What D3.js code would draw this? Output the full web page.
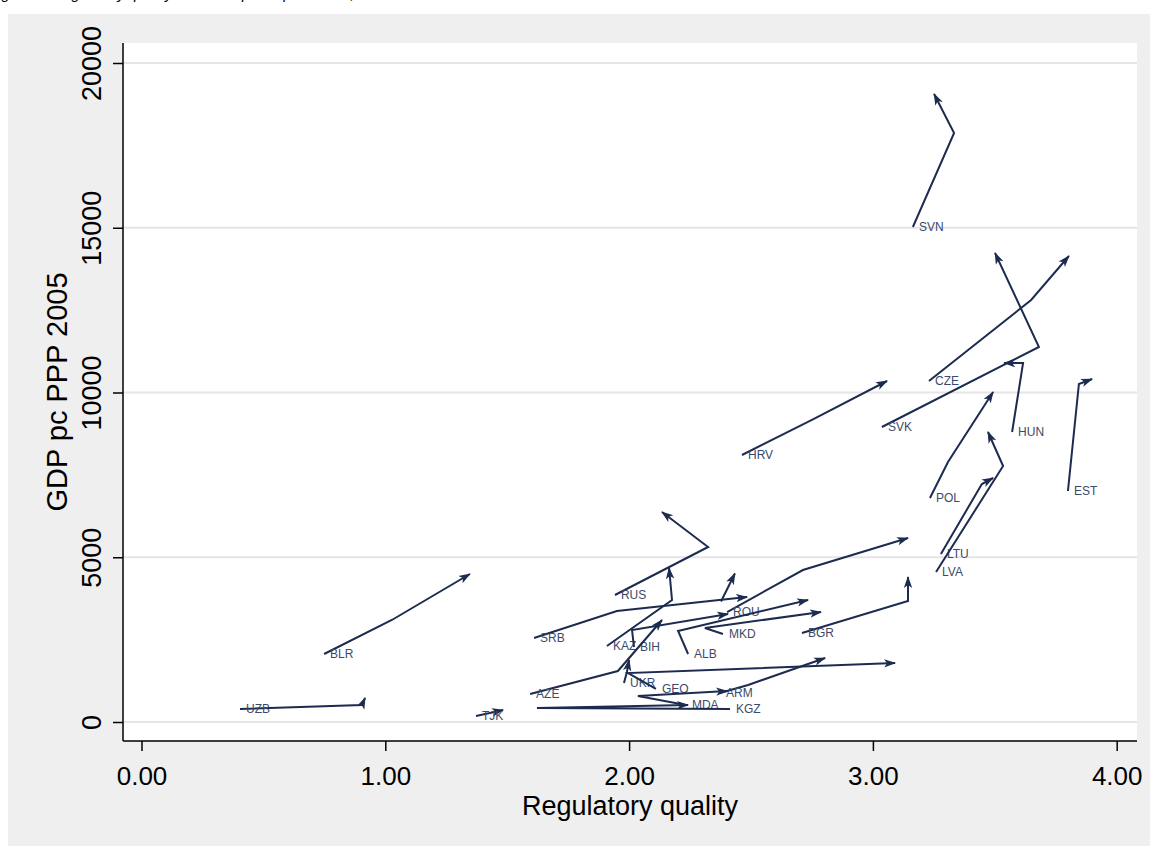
<!DOCTYPE html>
<html><head><meta charset="utf-8">
<script src="https://cdn.jsdelivr.net/npm/d3@7"></script>
<style>html,body{margin:0;padding:0;background:#fff;}svg{display:block;}</style>
</head><body>
<svg id="chart" width="1150" height="846"></svg>
<script>
// Data: each country path (regulatory quality, GDP pc) in chronological order
const countries = ["SVN","CZE","SVK","HUN","EST","POL","LTU","LVA","HRV","RUS","KAZ","SRB","BIH","ROU","ALB","MKD","BGR","AZE","UKR","GEO","ARM","MDA","KGZ","UZB","BLR","TJK","SRB2"];
const labels = {SRB2:""};
const rq = {
  SVN:[3.164,3.333,3.251], CZE:[3.230,3.649,3.804], SVK:[3.037,3.681,3.501], HUN:[3.571,3.616,3.538],
  EST:[3.800,3.845,3.899], POL:[3.234,3.308,3.493], LTU:[3.279,3.447,3.493], LVA:[3.259,3.534,3.472],
  HRV:[2.463,2.750,3.058], RUS:[1.942,2.324,2.135], KAZ:[1.909,2.176,2.164], SRB:[1.610,1.950,2.484],
  BIH:[2.020,2.012,2.406], ROU:[2.402,2.713,3.144], ALB:[2.242,2.201,2.734], MKD:[2.385,2.311,2.787],
  BGR:[2.709,3.144,3.144], AZE:[1.594,1.954,2.135], UKR:[1.979,1.991,2.000], GEO:[2.110,1.996,3.091],
  ARM:[2.373,2.488,2.804], MDA:[2.233,2.036,2.402], KGZ:[2.414,1.622,2.242], UZB:[0.404,0.904,0.917],
  BLR:[0.749,1.027,1.347], TJK:[1.372,1.429,1.483], SRB2:[2.377,2.434]
};
const gdp = {
  SVN:[15023,17876,19059], CZE:[10349,12807,14143], SVK:[8953,11381,14234], HUN:[8801,10895,10895],
  EST:[7011,10258,10410], POL:[6798,7891,10015], LTU:[5099,7223,7405], LVA:[4552,7769,8801],
  HRV:[8103,9166,10349], RUS:[3854,5311,6373], KAZ:[2307,3703,4674], SRB:[2549,3369,3794],
  BIH:[2276,2792,3278], ROU:[3338,4613,5584], ALB:[2064,2762,3703], MKD:[2671,2853,3338],
  BGR:[2701,3672,4401], AZE:[850,1548,3096], UKR:[1184,1517,1882], GEO:[1002,1487,1791],
  ARM:[880,1123,1942], MDA:[516,789,941], KGZ:[395,425,516], UZB:[395,516,728],
  BLR:[2064,3096,4492], TJK:[182,273,364], SRB2:[3657,4507]
};
const xTicks = [0,1,2,3,4];
const yTicks = [0,5000,10000,15000,20000];
const xTitle = "Regulatory quality";
const yTitle = "GDP pc PPP 2005";
const caption = "Figure 3: Regulatory quality and GDP per capita levels, 1996\u20132008";

const svg = d3.select("#chart");
const W = 1150, H = 846;
const plot = {left:123, right:1137, top:43, bottom:741};
const x = d3.scaleLinear().domain([0,4]).range([141.5,1116.7]);
const y = d3.scaleLinear().domain([0,20000]).range([722,63]);
const lineColor = "#1c2b4f";
const labelColor = "#3b4a6b";

// caption (cut off at top)
svg.append("text").attr("x",-11).attr("y",-1)
  .attr("font-family","Liberation Sans, Arial, sans-serif").attr("font-style","italic")
  .attr("font-size",15).attr("fill","#000").text(caption);

// outer grey
svg.append("rect").attr("x",8).attr("y",14).attr("width",W-8).attr("height",H-14).attr("fill","#efefef");
// plot region
svg.append("rect").attr("x",plot.left).attr("y",plot.top).attr("width",plot.right-plot.left).attr("height",plot.bottom-plot.top).attr("fill","#fff");

// gridlines
svg.append("g").selectAll("line").data(yTicks).join("line")
  .attr("x1",plot.left).attr("x2",plot.right)
  .attr("y1",d=>y(d)).attr("y2",d=>y(d))
  .attr("stroke","#e5e5e5").attr("stroke-width",2.2);

// axes
const font = "Liberation Sans, Arial, sans-serif";
const xAxis = svg.append("g").attr("transform",`translate(0,${plot.bottom})`)
  .call(d3.axisBottom(x).tickValues(xTicks).tickFormat(d3.format(".2f")).tickSize(10).tickPadding(0));
xAxis.select(".domain").remove();
xAxis.selectAll(".tick line").attr("stroke","#000").attr("stroke-width",1.5);
xAxis.selectAll(".tick text").attr("font-family",font).attr("font-size",26).attr("fill","#000")
  .attr("dy",null).attr("y",44);
svg.append("line").attr("x1",plot.left).attr("x2",plot.right).attr("y1",plot.bottom).attr("y2",plot.bottom)
  .attr("stroke","#000").attr("stroke-width",1.5);

const yAxis = svg.append("g").attr("transform",`translate(${plot.left},0)`)
  .call(d3.axisLeft(y).tickValues(yTicks).tickFormat(d3.format("d")).tickSize(10).tickPadding(0));
yAxis.select(".domain").remove();
yAxis.selectAll(".tick line").attr("stroke","#000").attr("stroke-width",1.5);
yAxis.selectAll(".tick text").attr("font-family",font).attr("font-size",27).attr("fill","#000")
  .attr("x",null).attr("dy",null)
  .attr("transform","translate(-22,0) rotate(-90)")
  .attr("text-anchor","middle").attr("y",0);
svg.append("line").attr("x1",plot.left).attr("x2",plot.left).attr("y1",plot.top).attr("y2",plot.bottom)
  .attr("stroke","#000").attr("stroke-width",1.5);

// titles
svg.append("text").attr("x",(plot.left+plot.right)/2).attr("y",815).attr("text-anchor","middle")
  .attr("font-family",font).attr("font-size",27).attr("fill","#000").text(xTitle);
svg.append("text").attr("transform",`translate(67,${(plot.top+plot.bottom)/2}) rotate(-90)`).attr("text-anchor","middle")
  .attr("font-family",font).attr("font-size",29).attr("fill","#000").text(yTitle);

// arrowhead marker
const defs = svg.append("defs");
defs.append("marker").attr("id","arr").attr("viewBox","0 0 12 10").attr("refX",11).attr("refY",5)
  .attr("markerWidth",12).attr("markerHeight",10).attr("markerUnits","userSpaceOnUse").attr("orient","auto")
  .append("path").attr("d","M0,0.8 L12,5 L0,9.2 L3,5 Z").attr("fill",lineColor);

const line = d3.line().x(d=>x(d[0])).y(d=>y(d[1]));
const g = svg.append("g");
countries.forEach(c=>{
  const pts = rq[c].map((v,i)=>[v, gdp[c][i]]);
  g.append("path").attr("d",line(pts)).attr("fill","none").attr("stroke",lineColor)
    .attr("stroke-width",2).attr("stroke-linejoin","miter").attr("marker-end","url(#arr)");
  const lab = (c in labels) ? labels[c] : c;
  if (lab) g.append("text").attr("x",x(pts[0][0])+6).attr("y",y(pts[0][1])).attr("dy","0.35em")
    .attr("font-family",font).attr("font-size",12).attr("fill",labelColor).text(lab);
});
</script>
</body></html>
